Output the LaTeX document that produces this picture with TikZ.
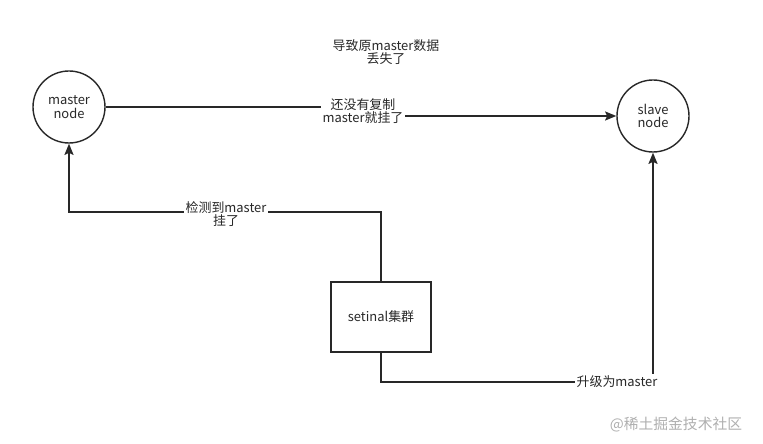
\documentclass[tikz,border=0pt]{standalone}
\usepackage{fontspec}
\setmainfont{Noto Sans CJK SC}
\usetikzlibrary{arrows.meta,calc,positioning}
\definecolor{inkgray}{RGB}{40,40,40}
\definecolor{markgray}{RGB}{175,175,175}
\tikzset{
  every node/.style={font=\fontsize{9.2}{11.5}\selectfont, text=inkgray, align=center},
  server/.style={circle, draw=inkgray, line width=1pt, minimum size=72*0.025cm, inner sep=0pt},
  cluster/.style={rectangle, draw=inkgray, line width=1pt, minimum width=100*0.025cm,
    minimum height=70*0.025cm, inner sep=0pt},
  link/.style={draw=inkgray, line width=1pt, line join=miter},
  arrow link/.style={link, -{Stealth[length=8pt,width=6.5pt,inset=1.5pt]}},
  tag/.style={fill=white, inner sep=1pt},
  watermark/.style={font=\fontsize{10.5}{12}\selectfont, text=markgray}
}

\begin{document}
\begin{tikzpicture}[x=0.025cm,y=-0.025cm]
  \useasboundingbox (0,0) rectangle (763,444);

  \node[server] (master) at (69,107) {master\\[-2pt]node};
  \node[server] (slave) at (653,116) {slave\\[-2pt]node};
  \node[cluster] (sentinel) at (381,317) {setinal集群};

  \node (loss) at (386,52) {导致原master数据\\[-2pt]丢失了};

  % master -> slave
  \coordinate (jog) at (363,111);
  \draw[arrow link] (master.east) -- (master.east -| jog) -- (slave.west -| jog) -- (slave.west);
  \node[tag] (copy) at (jog) {还没有复制\\[-2pt]master就挂了};

  % sentinel -> master
  \coordinate (upturn) at (381,212);
  \draw[arrow link] (sentinel.north) -- (upturn) -| (master.south);
  \node[tag] (detect) at (226,214) {检测到master\\[-2pt]挂了};

  % sentinel -> slave
  \coordinate (downturn) at (381,382);
  \draw[arrow link] (sentinel.south) -- (downturn) -| (slave.south);
  \node[tag, inner sep=1.5pt] (promote) at (617,382) {升级为master};

  \node[watermark] (mark) at (676,425) {@稀土掘金技术社区};
\end{tikzpicture}
\end{document}
